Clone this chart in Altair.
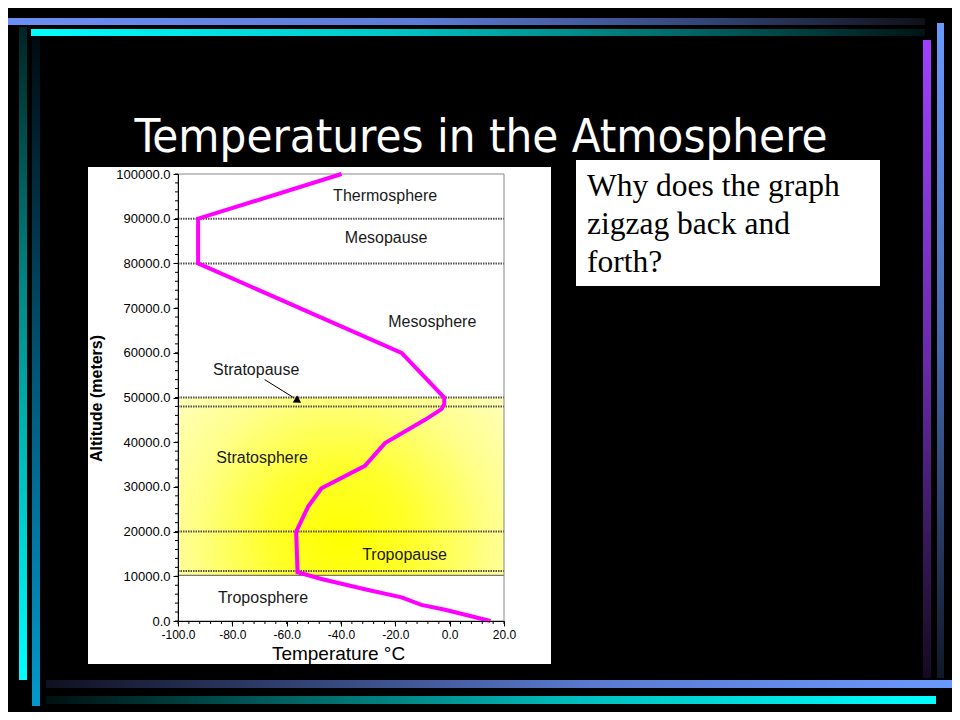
import altair as alt
import pandas as pd

# ---------------- data ----------------
temps = [15, -1.7, -10.4, -17.7, -31.2, -47.2, -56.0, -56.5, -52.1, -47.2, -31.2,
         -23.8, -9.1, -3.0, -2.0, -2.0, -17.7, -92.6, -92.6, -39.8]
alts = [0, 2500, 3600, 5300, 7100, 9400, 10900, 20000, 25600, 29700, 34700,
        39800, 45000, 47400, 48500, 50000, 60000, 80000, 90000, 100000]

layer_names = ["Thermosphere", "Mesopause", "Mesosphere", "Stratopause",
               "Stratosphere", "Tropopause", "Troposphere"]
layer_x = [-42.9, -38.6, -22.6, -87.1, -85.9, -32.2, -85.3]
layer_y = [95000, 85700, 67000, 56200, 36400, 14800, 5100]

boundary_alts = [90000, 80000, 50000, 48000, 20000, 11200]
solid_alts = [10200]
band_lo = [10200]
band_hi = [50000]

arrow_x1, arrow_y1 = [-68.1], [54000]
arrow_x2, arrow_y2 = [-57.5], [50000]
head_x, head_y = [-56.2], [49400]

x_ticks = [-100, -80, -60, -40, -20, 0, 20]
y_ticks = [0, 10000, 20000, 30000, 40000, 50000, 60000, 70000, 80000, 90000, 100000]
x_minor = list(range(-100, 21, 4))
y_minor = list(range(0, 100001, 2000))

title_text = "Temperatures in the Atmosphere"
box_lines = ["Why does the graph", "zigzag back and", "forth?"]

# ---------------- layout ----------------
W, H = 326, 447
OX, OY = 178, 174  # plot origin in page pixels


def px(v):
    return v - OX


def py(v):
    return v - OY


one = pd.DataFrame({"k": [0]})

xs = alt.Scale(domain=[-100, 20], nice=False, zero=False)
ys = alt.Scale(domain=[0, 100000], nice=False, zero=False)

label_expr = "replace(format(datum.value, '.1f'), '\u2212', '-')"

xaxis = alt.Axis(values=x_ticks, labelExpr=label_expr, tickSize=5, tickColor="black",
                 domainColor="black", labelColor="black", labelFont="Liberation Sans",
                 labelFontSize=12, labelPadding=3, labelFlush=False, grid=False,
                 title="Temperature °C", titleFont="Liberation Sans", titleFontSize=19,
                 titleFontWeight="normal", titleColor="black", titleBaseline="alphabetic",
                 titleY=38, titleX=160, zindex=1)
yaxis = alt.Axis(values=y_ticks, labelExpr=label_expr, tickSize=5, tickColor="black",
                 domainColor="black", labelColor="black", labelFont="Liberation Sans",
                 labelFontSize=13, labelPadding=3, labelFlush=False, grid=False,
                 title="Altitude (meters)", titleFont="Liberation Sans", titleFontSize=16,
                 titleFontWeight="bold", titleColor="black", titleAngle=270,
                 titleAlign="center", titleBaseline="alphabetic", titleX=-77, titleY=224,
                 zindex=1)


def X(f):
    return alt.X(f, type="quantitative", scale=xs, axis=xaxis)


def Y(f):
    return alt.Y(f, type="quantitative", scale=ys, axis=yaxis)


def lin(stops, vertical=False):
    return alt.LinearGradient(
        gradient="linear",
        stops=[alt.GradientStop(offset=o, color=c) for o, c in stops],
        x1=0, y1=0, x2=0 if vertical else 1, y2=1 if vertical else 0)


def box(x0, y0, x1, y1, fill):
    return alt.Chart(one).mark_rect(fill=fill).encode(
        x=alt.value(px(x0)), x2=alt.value(px(x1)),
        y=alt.value(py(y0)), y2=alt.value(py(y1)))


decor = [
    box(8, 18, 925, 25, lin([(0, "#6C8FF5"), (0.45, "#5C7BD6"), (0.75, "#34477A"), (1, "#101018")])),
    box(31, 29, 925, 36, lin([(0, "#00FFFF"), (0.4, "#00C8C8"), (0.7, "#007070"), (1, "#001414")])),
    box(19, 27, 27, 680, lin([(0, "#002424"), (0.4, "#008686"), (1, "#00FFFF")], True)),
    box(32, 36, 40, 706, lin([(0, "#000A10"), (0.5, "#005577"), (1, "#0099CC")], True)),
    box(46, 680, 955, 688, lin([(0, "#101020"), (0.3, "#34467A"), (0.6, "#5A7AD0"), (1, "#6A99FF")])),
    box(46, 696, 936, 704, lin([(0, "#001010"), (0.3, "#006A6A"), (0.6, "#00C0C0"), (1, "#00FFFF")])),
    box(923, 40, 931, 678, lin([(0, "#A040FF"), (0.5, "#6A2AAA"), (1, "#140A20")], True)),
    box(937, 23, 944, 678, lin([(0, "#6A9AFF"), (0.5, "#4466AA"), (1, "#101828")], True)),
    box(88, 167, 551, 664, "white"),
    box(576, 160, 880, 286, "white"),
]

title = alt.Chart(one).mark_text(
    text=title_text, font="DejaVu Sans Condensed, Roboto, sans-serif", fontSize=47,
    color="white", align="center", baseline="alphabetic"
).encode(x=alt.value(px(481)), y=alt.value(py(152)))

boxtext = alt.Chart(one).mark_text(
    text=box_lines, font="Liberation Serif", fontSize=31.5, lineHeight=37.8,
    color="black", align="left", baseline="alphabetic"
).encode(x=alt.value(px(587)), y=alt.value(py(196)))

band = alt.Chart(pd.DataFrame({"lo": band_lo, "hi": band_hi})).mark_rect(
    fill=alt.RadialGradient(
        gradient="radial", x1=0.5, y1=0.66, r1=0, x2=0.5, y2=0.66, r2=0.72,
        stops=[alt.GradientStop(offset=0, color="#FFFF00"),
               alt.GradientStop(offset=0.3, color="#FFFF2A"),
               alt.GradientStop(offset=0.65, color="#FFFF8C"),
               alt.GradientStop(offset=1, color="#FFFFC8")])
).encode(y=Y("lo"), y2=alt.Y2("hi"), x=alt.value(0), x2=alt.value(W))

dotted = alt.Chart(pd.DataFrame({"a": boundary_alts})).mark_rule(
    color="#505050", strokeWidth=2, strokeDash=[1.5, 1]
).encode(y=Y("a"), x=alt.value(0), x2=alt.value(W))

solid = alt.Chart(pd.DataFrame({"a": solid_alts})).mark_rule(
    color="#777777", strokeWidth=1.2
).encode(y=Y("a"), x=alt.value(0), x2=alt.value(W))

profile = alt.Chart(pd.DataFrame({"temp": temps, "alt": alts, "idx": list(range(len(temps)))})).mark_line(
    color="#FF00FF", strokeWidth=4, strokeJoin="miter"
).encode(x=X("temp"), y=Y("alt"), order=alt.Order("idx:Q"))

labels = alt.Chart(pd.DataFrame({"n": layer_names, "x": layer_x, "y": layer_y})).mark_text(
    font="Liberation Sans", fontSize=16, color="#1a1a1a", align="left", baseline="middle"
).encode(x=X("x"), y=Y("y"), text="n:N")

arrow = alt.Chart(pd.DataFrame({"x1": arrow_x1, "y1": arrow_y1, "x2": arrow_x2, "y2": arrow_y2})).mark_rule(
    color="black", strokeWidth=1
).encode(x=X("x1"), y=Y("y1"), x2=alt.X2("x2"), y2=alt.Y2("y2"))

head = alt.Chart(pd.DataFrame({"x": head_x, "y": head_y})).mark_point(
    shape="triangle", filled=True, color="black", opacity=1, size=70, angle=122.5
).encode(x=X("x"), y=Y("y"))

minor_y = alt.Chart(pd.DataFrame({"v": y_minor})).mark_rule(color="black", strokeWidth=1).encode(
    y=Y("v"), x=alt.value(-3), x2=alt.value(0))
minor_x = alt.Chart(pd.DataFrame({"v": x_minor})).mark_rule(color="black", strokeWidth=1).encode(
    x=X("v"), y=alt.value(H), y2=alt.value(H + 3))

border = alt.Chart(one).mark_rect(fillOpacity=0, stroke="#888888", strokeWidth=1).encode(
    x=alt.value(0), x2=alt.value(W), y=alt.value(0), y2=alt.value(H))

chart = alt.layer(
    *decor, title, boxtext, band, solid, dotted, border, profile, labels, arrow, head,
    minor_y, minor_x
).properties(
    width=W, height=H,
    padding={"left": 170, "top": 166, "right": 448, "bottom": 91},
    autosize=alt.AutoSizeParams(type="none")
).configure(background="black").configure_view(stroke=None)

chart.save("out.html", embed_options={"renderer": "svg", "actions": False})
